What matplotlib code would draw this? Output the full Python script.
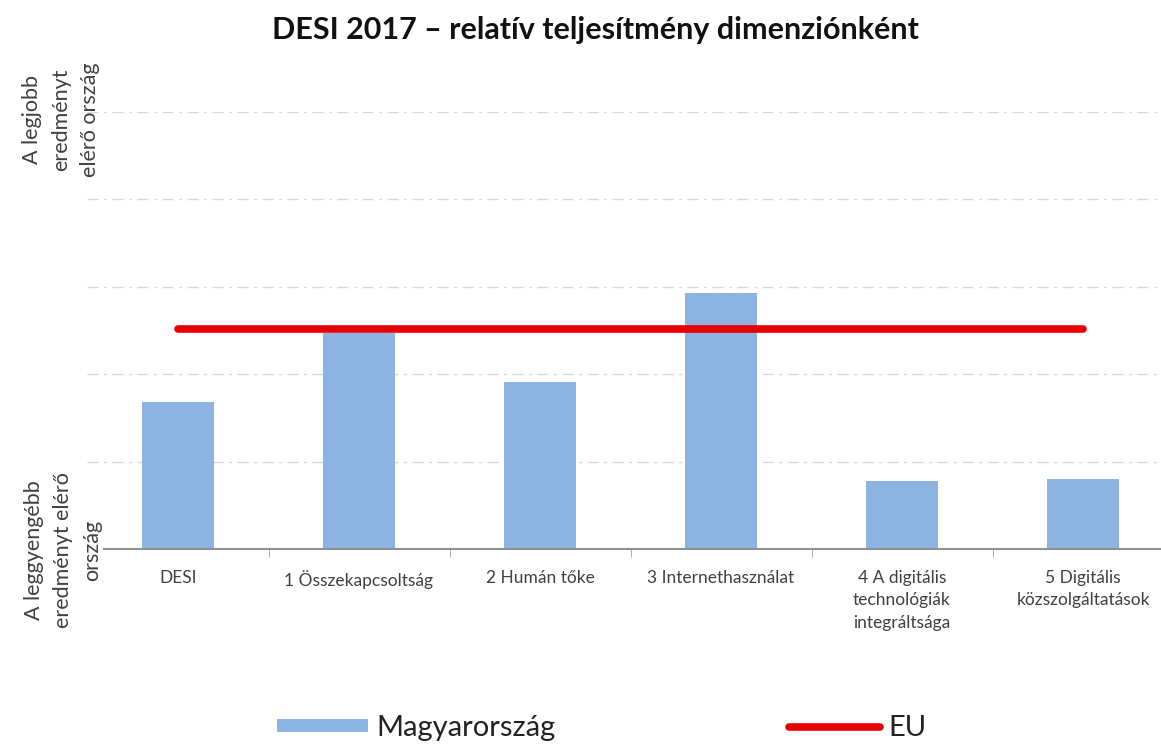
import numpy as np
import matplotlib
matplotlib.use("Agg")
import matplotlib.pyplot as plt

# data (0 = weakest country, 1 = best country)
categories = ["DESI", "1 Összekapcsoltság", "2 Humán tőke", "3 Internethasználat",
              "4 A digitális\ntechnológiák\nintegráltsága", "5 Digitális\nközszolgáltatások"]
hungary = [0.336, 0.494, 0.382, 0.586, 0.156, 0.160]
eu = [0.503, 0.503, 0.503, 0.503, 0.503, 0.503]

plt.rcParams['font.family'] = ['Lato', 'DejaVu Sans']

fig = plt.figure(figsize=(11.61, 7.46), dpi=100)
# plot area runs past the right edge, as in the original
ax = fig.add_axes([87.5 / 1161, 1 - 549 / 746, 1086 / 1161, 437 / 746])

x = np.arange(len(categories))
bars = ax.bar(x, hungary, width=0.4, color='#8DB3E2', zorder=2, label='Magyarország')
line, = ax.plot(x, eu, color='#E60000', lw=5.5, solid_capstyle='round', zorder=3, label='EU')

ax.set_xlim(-0.5, len(categories) - 0.5)
ax.set_ylim(0, 1)
ax.set_yticks([0.2, 0.4, 0.6, 0.8, 1.0])
ax.set_yticklabels([])
ax.tick_params(axis='y', length=0)
ax.yaxis.grid(True, color='#d9d9d9', lw=1, linestyle=(0, (8, 4, 2, 4)), zorder=0)

# category labels centred, boundary ticks
ax.set_xticks(x)
ax.set_xticklabels(categories, fontsize=12.5, color='#404040', linespacing=1.5)
ax.tick_params(axis='x', which='major', length=0, pad=15)
ax.set_xticks(np.arange(len(categories)) + 0.5, minor=True)
ax.tick_params(axis='x', which='minor', length=6, color='#a0a0a0')

for s in ['top', 'right', 'left']:
    ax.spines[s].set_visible(False)
ax.spines['bottom'].set_color('#909090')
ax.spines['bottom'].set_linewidth(1.5)

fig.text(595 / 1161, 1 - 30 / 746, "DESI 2017 – relatív teljesítmény dimenziónként",
         ha='center', va='center', fontsize=22, fontweight='bold', color='#111111')

fig.text(61 / 1161, 1 - 120 / 746, "A legjobb\neredményt\nelérő ország",
         rotation=90, ha='center', va='center', multialignment='center',
         fontsize=15.5, color='#404040', linespacing=1.55)
fig.text(63 / 1161, 1 - 550 / 746, "A leggyengébb\neredményt elérő\nország",
         rotation=90, ha='center', va='center', multialignment='center',
         fontsize=15.5, color='#404040', linespacing=1.55,
         bbox=dict(facecolor='white', edgecolor='none', pad=1), zorder=5)

fig.legend(handles=[bars, line], labels=['Magyarország', 'EU'],
           loc='center', bbox_to_anchor=(602 / 1161, 1 - 728 / 746),
           ncol=2, frameon=False, fontsize=21, handlelength=3.1, handleheight=0.35,
           handletextpad=0.3, columnspacing=8.0, labelcolor='#222222')

fig.savefig("out.png", dpi=100, facecolor='white')
